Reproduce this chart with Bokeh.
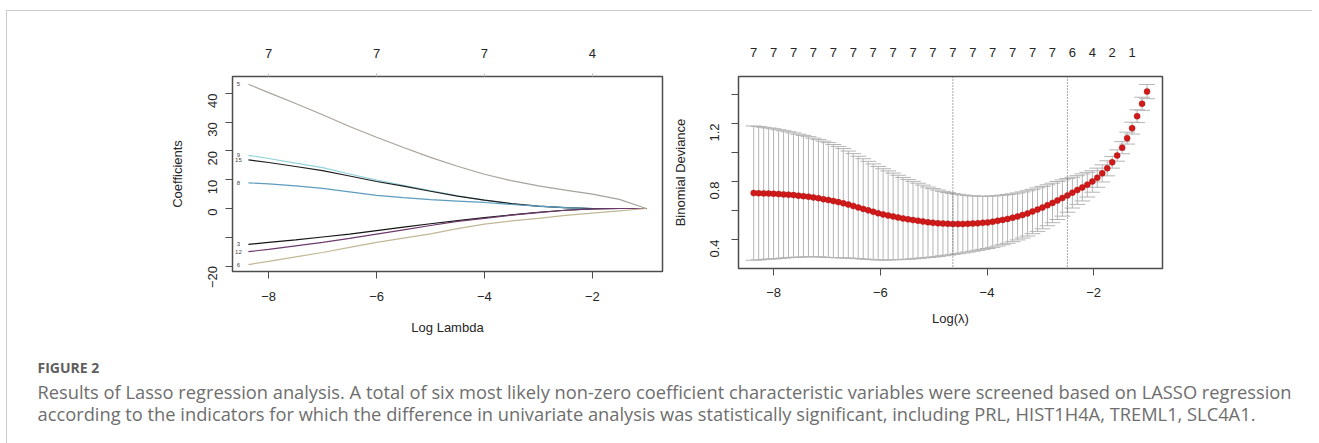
import math
from bokeh.plotting import figure
from bokeh.layouts import column, row
from bokeh.models import (Range1d, LinearAxis, FixedTicker, CustomJSTickFormatter,
                          Span, ColumnDataSource)
from bokeh.core.properties import value
from bokeh.embed import file_html
from bokeh.resources import INLINE

# ---------------- data: coefficient paths (left panel) ----------------
path_loglambda = [-8.375, -8.0, -7.5, -7.0, -6.5, -6.0, -5.5, -5.0, -4.5, -4.0,
                  -3.5, -3.0, -2.5, -2.0, -1.5, -1.0]
coef_5 = [43.2, 40.3, 36.5, 32.6, 28.5, 24.8, 21.2, 17.8, 14.7, 11.9, 9.7, 7.9, 6.4, 5.0, 3.2, 0.0]
coef_9 = [18.5, 17.4, 15.8, 14.2, 12.0, 9.9, 8.1, 6.2, 4.4, 2.9, 1.6, 0.7, 0.2, 0.0, 0.0, 0.0]
coef_15 = [16.9, 16.0, 14.6, 13.2, 11.3, 9.4, 7.8, 6.0, 4.3, 2.9, 1.7, 0.8, 0.3, 0.0, 0.0, 0.0]
coef_8 = [8.9, 8.6, 7.9, 7.0, 5.8, 4.6, 3.8, 3.1, 2.6, 2.1, 1.4, 0.8, 0.3, 0.0, 0.0, 0.0]
coef_3 = [-12.5, -11.8, -10.9, -9.9, -8.9, -7.7, -6.5, -5.3, -4.2, -3.2, -2.2, -1.3, -0.6, -0.1, 0.0, 0.0]
coef_12 = [-15.0, -14.2, -13.0, -11.8, -10.4, -8.9, -7.4, -5.9, -4.5, -3.4, -2.3, -1.4, -0.6, -0.1, 0.0, 0.0]
coef_6 = [-19.5, -18.4, -16.8, -15.3, -13.5, -11.8, -10.3, -8.8, -7.0, -5.4, -4.3, -3.4, -2.4, -1.6, -0.8, 0.0]
coef_names = ["5", "9", "15", "8", "3", "12", "6"]
coef_colors = ["#a8a39c", "#93d3dc", "#1e1e1e", "#5d9cbf", "#151515", "#6e3a6e", "#c2b896"]
path_top_ticks = [-8, -6, -4, -2]
path_top_labels = ["7", "7", "7", "4"]

# ---------------- data: cross-validation curve (right panel) ----------------
cv_loglambda = [-8.375, -8.282, -8.188, -8.095, -8.002, -7.908, -7.815, -7.722, -7.628, -7.535,
                -7.442, -7.348, -7.255, -7.161, -7.068, -6.975, -6.881, -6.788, -6.695, -6.601,
                -6.508, -6.415, -6.321, -6.228, -6.134, -6.041, -5.948, -5.854, -5.761, -5.668,
                -5.574, -5.481, -5.388, -5.294, -5.201, -5.107, -5.014, -4.921, -4.827, -4.734,
                -4.641, -4.547, -4.454, -4.361, -4.267, -4.174, -4.080, -3.987, -3.894, -3.800,
                -3.707, -3.614, -3.520, -3.427, -3.334, -3.240, -3.147, -3.053, -2.960, -2.867,
                -2.773, -2.680, -2.587, -2.493, -2.400, -2.307, -2.213, -2.120, -2.026, -1.933,
                -1.840, -1.746, -1.653, -1.560, -1.466, -1.373, -1.280, -1.186, -1.093, -1.000]
cv_mean = [0.720, 0.719, 0.718, 0.717, 0.715, 0.713, 0.711, 0.709, 0.706, 0.702,
           0.699, 0.695, 0.690, 0.685, 0.678, 0.672, 0.665, 0.658, 0.650, 0.641,
           0.631, 0.621, 0.611, 0.601, 0.591, 0.581, 0.573, 0.566, 0.559, 0.552,
           0.545, 0.539, 0.534, 0.529, 0.524, 0.519, 0.515, 0.512, 0.510, 0.508,
           0.507, 0.507, 0.507, 0.508, 0.510, 0.512, 0.515, 0.518, 0.523, 0.529,
           0.535, 0.542, 0.550, 0.559, 0.569, 0.580, 0.593, 0.606, 0.620, 0.636,
           0.652, 0.669, 0.686, 0.704, 0.723, 0.741, 0.759, 0.778, 0.800, 0.826,
           0.856, 0.891, 0.932, 0.979, 1.033, 1.099, 1.168, 1.250, 1.336, 1.420]
cv_sd = [0.463, 0.460, 0.456, 0.452, 0.449, 0.444, 0.439, 0.434, 0.429, 0.424,
         0.419, 0.414, 0.409, 0.404, 0.400, 0.396, 0.390, 0.384, 0.377, 0.369,
         0.361, 0.353, 0.346, 0.338, 0.330, 0.322, 0.315, 0.307, 0.299, 0.291,
         0.283, 0.275, 0.267, 0.259, 0.251, 0.243, 0.236, 0.229, 0.222, 0.216,
         0.210, 0.205, 0.200, 0.195, 0.191, 0.187, 0.183, 0.180, 0.177, 0.174,
         0.171, 0.168, 0.165, 0.162, 0.159, 0.156, 0.153, 0.150, 0.146, 0.141,
         0.136, 0.131, 0.125, 0.116, 0.106, 0.099, 0.093, 0.085, 0.074, 0.066,
         0.059, 0.052, 0.040, 0.039, 0.042, 0.041, 0.041, 0.044, 0.045, 0.049]
cv_top_labels = ["7", "7", "7", "7", "7", "7", "7", "7", "7", "7",
                 "7", "7", "7", "7", "7", "7", "6", "4", "2", "1"]
log_lambda_min = -4.641
log_lambda_1se = -2.493

caption_head = "FIGURE 2"
caption_lines = [
    "Results of Lasso regression analysis. A total of six most likely non-zero coefficient characteristic variables were screened based on LASSO regression",
    "according to the indicators for which the difference in univariate analysis was statistically significant, including PRL, HIST1H4A, TREML1, SLC4A1.",
]

FONT = "Liberation Sans"
TXT = "#262626"
FRAME = "#4d4d4d"


def style_axis(ax, tick_out=7):
    ax.major_label_text_font = FONT
    ax.major_label_text_font_size = "13px"
    ax.major_label_text_color = TXT
    ax.axis_label_text_font = FONT
    ax.axis_label_text_font_size = "13px"
    ax.axis_label_text_font_style = "normal"
    ax.axis_label_text_color = TXT
    ax.axis_line_color = None
    ax.major_tick_out = tick_out
    ax.major_tick_in = 0
    ax.major_tick_line_color = FRAME
    ax.minor_tick_line_color = None


def base_fig(xr, yr, fw, fh, bl, br, bt, bb):
    p = figure(x_range=xr, y_range=yr, frame_width=fw, frame_height=fh,
               min_border_left=bl, min_border_right=br, min_border_top=bt, min_border_bottom=bb,
               output_backend="svg", toolbar_location=None, x_axis_location="below")
    p.grid.visible = False
    p.outline_line_color = FRAME
    p.outline_line_width = 1.5
    p.background_fill_color = "white"
    p.border_fill_color = "white"
    return p


# ---------------- left panel ----------------
left = base_fig(Range1d(-8.67, -0.70), Range1d(-21.9, 45.9), 430, 195, 225, 4, 65, 65)
coef_series = [coef_5, coef_9, coef_15, coef_8, coef_3, coef_12, coef_6]
for ys, col in zip(coef_series, coef_colors):
    left.line(path_loglambda, ys, line_color=col, line_width=1.2)
lab_src = ColumnDataSource(dict(x=[-8.56] * len(coef_series),
                                y=[s[0] for s in coef_series], t=coef_names))
left.text(x="x", y="y", text="t", source=lab_src, text_font=value(FONT),
          text_font_size="6px", text_color="#444444", text_align="center",
          text_baseline="middle")

ax = left.xaxis[0]
ax.ticker = FixedTicker(ticks=[-8, -6, -4, -2])
ax.axis_label = "Log Lambda"
style_axis(ax)
ax.major_label_standoff = 13
ax.axis_label_standoff = 16

ay = left.yaxis[0]
ay.ticker = FixedTicker(ticks=[-20, -10, 0, 10, 20, 30, 40])
ay.major_label_overrides = {-10: ""}
ay.axis_label = "Coefficients"
style_axis(ay)
ay.major_label_orientation = math.pi / 2
ay.major_label_standoff = 13
ay.axis_label_standoff = 16

top_l = LinearAxis(ticker=FixedTicker(ticks=path_top_ticks),
                   formatter=CustomJSTickFormatter(args=dict(pos=path_top_ticks, lab=path_top_labels), code="""
let b=0,d=1e9;for(let i=0;i<pos.length;i++){const e=Math.abs(pos[i]-tick);if(e<d){d=e;b=i;}}return lab[b];"""))
style_axis(top_l, tick_out=3)
top_l.major_tick_line_color = "#bbbbbb"
top_l.major_label_standoff = 16
left.add_layout(top_l, "above")

# ---------------- right panel ----------------
right = base_fig(Range1d(-8.66, -0.71), Range1d(0.2, 1.524), 424, 192, 72, 150, 65, 68)
upper = [m + s for m, s in zip(cv_mean, cv_sd)]
lower = [m - s for m, s in zip(cv_mean, cv_sd)]
capw = 0.02 * (max(cv_loglambda) - min(cv_loglambda))
bar_col = "#b4b4b4"
right.segment(x0=cv_loglambda, y0=lower, x1=cv_loglambda, y1=upper, line_color=bar_col, line_width=1)
right.segment(x0=[x - capw for x in cv_loglambda], y0=upper,
              x1=[x + capw for x in cv_loglambda], y1=upper, line_color=bar_col, line_width=1)
right.segment(x0=[x - capw for x in cv_loglambda], y0=lower,
              x1=[x + capw for x in cv_loglambda], y1=lower, line_color=bar_col, line_width=1)
for loc in (log_lambda_min, log_lambda_1se):
    right.add_layout(Span(location=loc, dimension="height", line_color="#555555",
                          line_dash="1 2", line_width=1))
right.scatter(cv_loglambda, cv_mean, size=6, fill_color="#d01a1a", line_color="#b01010",
              line_width=0.5)

bx = right.xaxis[0]
bx.ticker = FixedTicker(ticks=[-8, -6, -4, -2])
bx.axis_label = "Log(\u03bb)"
style_axis(bx)
bx.major_label_standoff = 12
bx.axis_label_standoff = 11

by = right.yaxis[0]
by.ticker = FixedTicker(ticks=[0.4, 0.6, 0.8, 1.0, 1.2, 1.4])
by.major_label_overrides = {0.6: "", 1: "", 1.4: ""}
by.axis_label = "Binomial Deviance"
style_axis(by)
by.major_label_orientation = math.pi / 2
by.major_label_standoff = 17
by.axis_label_standoff = 15

top_pos = cv_loglambda[::4]
top_r = LinearAxis(ticker=FixedTicker(ticks=top_pos),
                   formatter=CustomJSTickFormatter(args=dict(pos=top_pos, lab=cv_top_labels), code="""
let b=0,d=1e9;for(let i=0;i<pos.length;i++){const e=Math.abs(pos[i]-tick);if(e<d){d=e;b=i;}}return lab[b];"""))
style_axis(top_r, tick_out=0)
top_r.major_label_standoff = 20
right.add_layout(top_r, "above")

# ---------------- caption ----------------
cap = figure(x_range=Range1d(0, 1305), y_range=Range1d(107, 0), width=1305, height=107,
             min_border=0, output_backend="svg", toolbar_location=None)
cap.axis.visible = False
cap.grid.visible = False
cap.outline_line_color = None
cap.text(x=[30], y=[30], text=[caption_head], text_font=value("Open Sans"),
         text_font_size="14px", text_font_style="bold", text_color="#5e5e5e",
         text_baseline="middle")
cap.text(x=[30, 30], y=[54, 76], text=caption_lines, text_font=value("Open Sans"),
         text_font_size="18.3px", text_color="#6e6e6e", text_baseline="middle")

root = column(row(left, right, spacing=0), cap, spacing=0,
              styles={"border-left": "1px solid #cccccc", "border-top": "1px solid #cccccc",
                      "margin-left": "6px", "margin-top": "10px"})

open("out.html", "w").write(file_html(root, INLINE))
